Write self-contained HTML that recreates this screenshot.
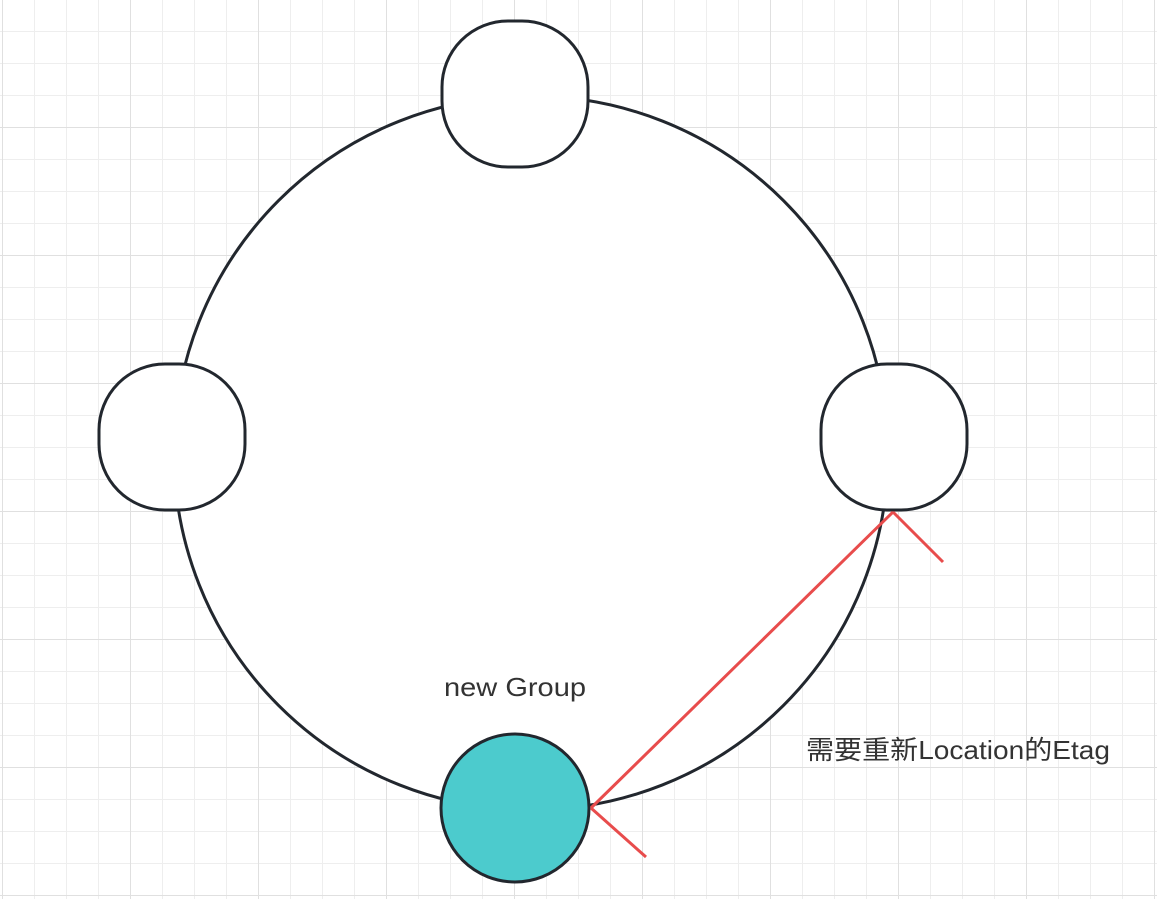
<!DOCTYPE html>
<html><head><meta charset="utf-8"><style>
html,body{margin:0;padding:0;background:#fff;width:1157px;height:899px;overflow:hidden}
svg{display:block}
text{font-family:"Liberation Sans","Noto Sans CJK SC",sans-serif;fill:#333}
</style></head><body>
<svg width="1157" height="899" xmlns="http://www.w3.org/2000/svg">
<defs>
<pattern id="minor" x="2" y="-1" width="32" height="32" patternUnits="userSpaceOnUse">
<path d="M0 0V32M0 0H32" stroke="#eeeeee" stroke-width="2" fill="none"/>
</pattern>
<pattern id="major" x="2" y="-1" width="128" height="128" patternUnits="userSpaceOnUse">
<path d="M0 0V128M0 0H128" stroke="#e0e0e0" stroke-width="2" fill="none"/>
</pattern>
</defs>
<rect width="1157" height="899" fill="url(#minor)"/>
<rect width="1157" height="899" fill="url(#major)"/>
<circle cx="531" cy="453" r="357" fill="#fff" stroke="#22272e" stroke-width="3"/>
<rect x="442" y="21" width="146" height="146" rx="66" fill="#fff" stroke="#22272e" stroke-width="3"/>
<rect x="99" y="364" width="146" height="146" rx="66" fill="#fff" stroke="#22272e" stroke-width="3"/>
<rect x="821" y="364" width="146" height="146" rx="66" fill="#fff" stroke="#22272e" stroke-width="3"/>
<circle cx="515" cy="808" r="74" fill="#4ccbcd" stroke="#22272e" stroke-width="3"/>
<g stroke="#e84c4c" stroke-width="3" fill="none">
<line x1="591" y1="808" x2="893" y2="512"/>
<line x1="893" y1="512" x2="943" y2="562"/>
<line x1="591" y1="808" x2="646" y2="857"/>
</g>
<text x="444" y="696" font-size="26" textLength="142" lengthAdjust="spacingAndGlyphs">new Group</text>
<text x="806" y="759" font-size="26" textLength="304" lengthAdjust="spacingAndGlyphs">需要重新Location的Etag</text>
</svg>
</body></html>
